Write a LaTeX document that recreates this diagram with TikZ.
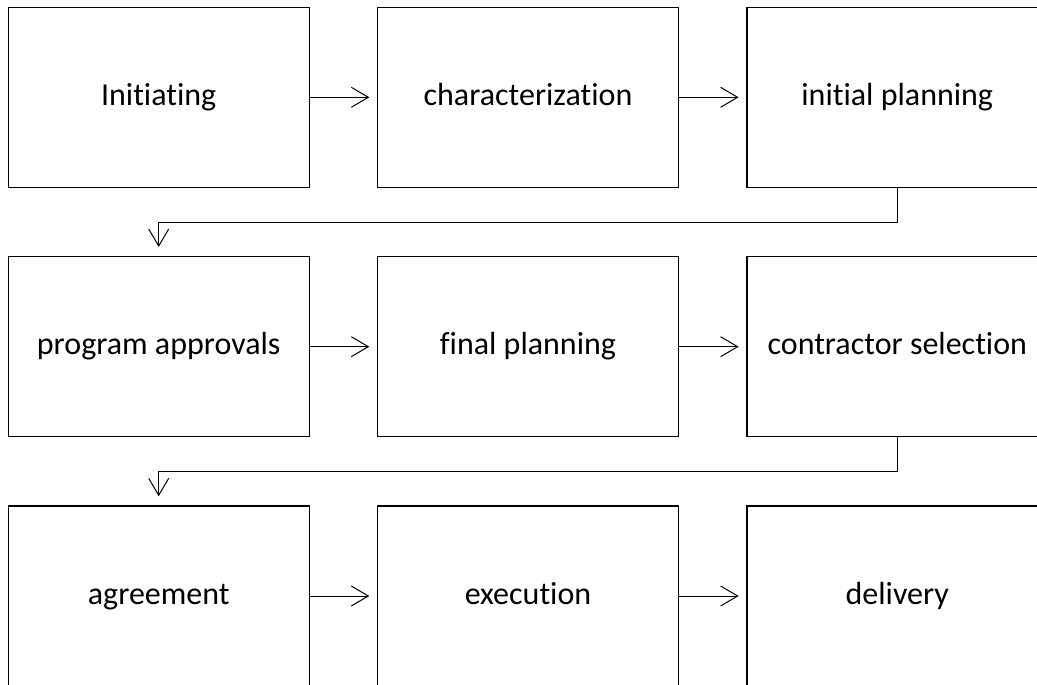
\documentclass[tikz,border=0pt]{standalone}
\usepackage{fontspec}
\setmainfont{Carlito}[Ligatures={NoCommon}]
\usetikzlibrary{arrows.meta}
\begin{document}
\begin{tikzpicture}[x=1pt,y=-1pt,
  stage/.style={draw, line width=1.4pt, minimum width=301pt, minimum height=180pt, inner sep=0pt, text height=22pt, text depth=5.5pt, font=\fontsize{32}{38}\selectfont},
  flow/.style={line width=1pt, -{Straight Barb[length=17pt,width=20pt,line width=1pt]}}]
\useasboundingbox (0,0) rectangle (1037,685);
\clip (0,0) rectangle (1037,685);
\node[stage] (n1) at (158.7,97.3) {Initiating};
\node[stage] (n2) at (528,97.3) {characterization};
\node[stage] (n3) at (897.3,97.3) {initial planning};
\node[stage] (n4) at (158.7,346.7) {program approvals};
\node[stage] (n5) at (528,346.7) {final planning};
\node[stage] (n6) at (897.3,346.7) {contractor selection};
\node[stage] (n7) at (158.7,596) {agreement};
\node[stage] (n8) at (528,596) {execution};
\node[stage] (n9) at (897.3,596) {delivery};
\draw[flow, shorten >=7.5pt] (n1.east) -- (n2.west);
\draw[flow, shorten >=7.5pt] (n2.east) -- (n3.west);
\draw[flow, shorten >=7.5pt] (n4.east) -- (n5.west);
\draw[flow, shorten >=7.5pt] (n5.east) -- (n6.west);
\draw[flow, shorten >=7.5pt] (n7.east) -- (n8.west);
\draw[flow, shorten >=7.5pt] (n8.east) -- (n9.west);
\draw[flow, shorten >=9pt] (n3.south) -- ++(0,34.4) -| (n4.north);
\draw[flow, shorten >=9pt] (n6.south) -- ++(0,34.4) -| (n7.north);
\end{tikzpicture}
\end{document}
